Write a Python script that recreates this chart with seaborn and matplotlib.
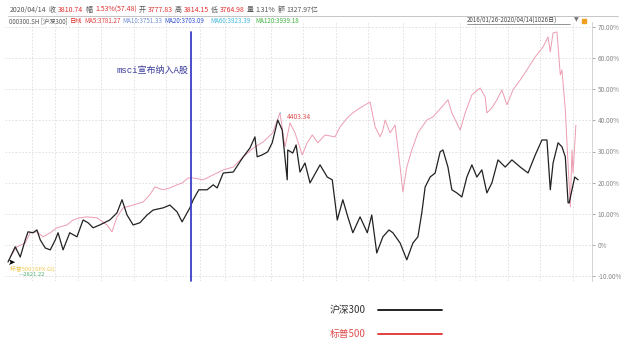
import numpy as np
import pandas as pd
import matplotlib
matplotlib.use("Agg")
import matplotlib.pyplot as plt
import seaborn as sns

# =============================================================================
# DATOS (día de negociación desde 2016/01/26, % acumulado)
# =============================================================================
hs300_day = [0, 13, 22, 31, 36, 45, 52, 58, 67, 76, 85, 90, 99, 111, 124, 135, 144, 153,
             165, 183, 196, 205, 214, 225, 237, 250, 261, 279, 291, 304, 313, 327, 333,
             343, 358, 369, 376, 387, 405, 423, 435, 444, 448, 457, 467, 475, 485, 493,
             502, 503, 512, 518, 525, 534, 543, 556, 561, 574, 583, 592, 602, 611, 620,
             633, 646, 654, 663, 674, 685, 692, 705, 717, 728, 737, 744, 750, 759, 768,
             777, 782, 791, 798, 807, 816, 825, 834, 843, 852, 861, 870, 881, 894, 906,
             921, 935, 948, 960, 969, 975, 980, 989, 996, 1002, 1007, 1009, 1014, 1019, 1025]
hs300_pct = [-5.5, -0.6, -3.9, 1.6, 4.2, 3.9, 4.8, 1.6, -1.0, -1.6, 1.6, 3.9, -1.6, 3.9,
             2.6, 8.0, 7.1, 5.5, 6.4, 8.0, 10.3, 14.5, 9.6, 6.4, 7.1, 9.6, 11.2, 11.9, 12.8,
             10.6, 7.4, 11.9, 14.5, 17.7, 17.7, 19.3, 18.3, 23.1, 23.4, 28.3, 31.1, 34.7,
             28.3, 28.9, 29.9, 32.8, 40.1, 36.9, 20.9, 30.5, 29.5, 32.1, 23.4, 26.3, 19.9,
             24.1, 25.7, 21.8, 20.9, 8.0, 14.5, 9.0, 3.9, 9.0, 3.9, 9.6, -2.6, 2.6, 4.8,
             3.9, 0.6, -4.8, 0.6, 2.6, 10.3, 18.6, 21.8, 23.1, 29.9, 30.5, 25.0, 17.7, 16.7,
             15.4, 21.8, 25.7, 21.8, 24.1, 16.7, 19.9, 27.3, 25.0, 27.3, 25.0, 23.1, 28.9,
             33.7, 33.7, 17.7, 26.3, 32.8, 31.5, 28.3, 13.5, 13.5, 17.7, 21.8, 20.9]

spx_day = [4, 16, 31, 40, 52, 63, 76, 88, 106, 117, 129, 142, 160, 178, 187, 196, 207, 225,
           243, 255, 264, 279, 291, 304, 313, 324, 333, 351, 369, 387, 405, 423, 441, 459,
           476, 489, 498, 507, 516, 529, 538, 547, 557, 570, 588, 597, 610, 620, 633, 651,
           660, 669, 674, 678, 687, 696, 705, 710, 717, 726, 737, 753, 764, 780, 791, 798,
           813, 822, 834, 849, 858, 861, 870, 879, 888, 897, 908, 921, 933, 948, 962, 971,
           975, 980, 987, 993, 996, 1002, 1005, 1011, 1014, 1016, 1021]
spx_pct = [-3.9, -0.6, 0.6, 3.9, 4.2, 2.6, 3.9, 5.5, 6.4, 8.0, 8.7, 9.0, 8.7, 6.4, 4.2, 9.0,
           11.9, 12.8, 13.8, 16.1, 18.6, 17.7, 18.3, 19.3, 19.9, 21.5, 21.5, 20.9, 22.5,
           24.1, 25.0, 28.3, 31.1, 33.1, 36.0, 42.4, 31.5, 39.2, 36.0, 28.9, 32.8, 35.3,
           32.8, 35.3, 34.7, 37.9, 40.8, 42.4, 44.0, 45.9, 37.9, 34.7, 36.9, 40.1, 36.0,
           38.5, 25.0, 17.0, 25.0, 30.5, 36.0, 40.1, 41.1, 44.3, 46.6, 42.4, 36.9, 42.4,
           48.2, 50.4, 47.5, 42.4, 44.0, 46.6, 49.8, 45.0, 49.8, 53.0, 56.2, 60.4, 63.6,
           66.8, 62.0, 68.1, 68.4, 54.6, 56.2, 43.4, 32.8, 12.2, 30.5, 23.1, 38.5]

y_ticks = [-10, 0, 10, 20, 30, 40, 50, 60, 70]
y_labels = ['-10.00%', '0%', '10.00%', '20.00%', '30.00%', '40.00%', '50.00%', '60.00%', '70.00%']
grid_days = [43, 85, 126, 167, 227, 284, 345, 390, 442, 473, 530, 590, 647, 710, 768,
             813, 840, 899, 957, 1016]
msci_day = 329
peak_day, peak_pct = 489, 42.4

df_hs = pd.DataFrame({'dia': hs300_day, 'pct': hs300_pct})
df_spx = pd.DataFrame({'dia': spx_day, 'pct': spx_pct})

# =============================================================================
# FIGURA
# =============================================================================
sns.set_style('white')
plt.rcParams['font.family'] = ['Noto Sans CJK SC', 'DejaVu Sans']

W, H = 628, 352
fig = plt.figure(figsize=(W / 100, H / 100), dpi=100)
ax = fig.add_axes([5 / W, 1 - 281 / H, (592 - 5) / W, (281 - 22) / H])

ROJO_SPX = '#ec9cb0'
sns.lineplot(data=df_spx, x='dia', y='pct', color=ROJO_SPX, linewidth=0.7,
             sort=False, estimator=None, ax=ax)
sns.lineplot(data=df_hs, x='dia', y='pct', color='#222222', linewidth=0.9,
             sort=False, estimator=None, ax=ax)

ax.set_xlim(-5.4, 1050)
ax.set_ylim(-11.6, 71.6)
ax.set_xticks(grid_days)
ax.set_xticklabels([])
ax.set_yticks(y_ticks)
ax.set_yticklabels(y_labels)
ax.yaxis.tick_right()
ax.tick_params(axis='y', labelsize=4.6, colors='#888888', length=2, pad=2, width=0.5)
ax.tick_params(axis='x', length=0)
ax.set_xlabel('')
ax.set_ylabel('')
ax.grid(True, linestyle=(0, (2, 2)), color='#dddddd', linewidth=0.6)
for lado in ['top', 'left', 'bottom']:
    ax.spines[lado].set_visible(False)
ax.spines['right'].set_color('#cccccc')
ax.spines['right'].set_linewidth(0.6)

# línea MSCI
ax.axvline(msci_day, ymin=0, ymax=0.96, color='#3b3fc4', linewidth=1.3, clip_on=False)
ax.text(msci_day - 4, 56, 'msci宣布纳入A股', color='#3a3a9a', fontsize=6.5,
        ha='right', va='center', family=['Liberation Mono', 'Noto Sans CJK SC'])

# pico 4403.34
ax.annotate('4403.34', xy=(peak_day, peak_pct), xytext=(peak_day + 12, 41.0),
            fontsize=4.8, color='#e05050', va='center',
            arrowprops=dict(arrowstyle='-', color='#40b8d8', linewidth=0.6))

# marcas inferiores izquierdas
ax.text(0, -5.5, '➤', fontsize=6.5, color='black', va='center', ha='left',
        family=['DejaVu Sans'])
ax.text(4, -7.6, '标普500 (SPX.GI)', fontsize=4.2, color='#f0c850', va='center')
ax.text(20, -9.6, '—2821.22', fontsize=4.2, color='#50b070', va='center')


def px(x, y):
    return x / W, 1 - y / H


# cabecera: cada trozo en su x de referencia, sin pisar al anterior
renderer = fig.canvas.get_renderer()


def fila(items, y, size):
    fin = 0
    for x, t, c in items:
        x = max(x, fin + 2)
        txt = fig.text(*px(x, y), t, fontsize=size, color=c, va='center', ha='left')
        bb = txt.get_window_extent(renderer)
        fin = bb.x1


fila1 = [(10, '2020/04/14', '#555555'), (49, '收', '#555555'), (57, '3810.74', '#e03030'),
         (86, '幅', '#555555'), (94, '1.53%(57.48)', '#e03030'), (137, '开', '#555555'),
         (143, '3777.83', '#e03030'), (172, '高', '#555555'), (178, '3814.15', '#e03030'),
         (207, '低', '#555555'), (213, '3764.98', '#e03030'), (244, '量', '#555555'),
         (251, '1.31%', '#555555'), (267, '额', '#555555'), (273, '1327.97亿', '#555555')]
fila(fila1, 10, 5.0)

fila2 = [(9, '000300.SH [沪深300]', '#555555'), (65, '日线', '#e03030'),
         (74, 'MA5:3781.27', '#e04040'), (121, 'MA10:3751.33', '#7090d0'),
         (163, 'MA20:3703.09', '#3050d0'), (210, 'MA60:3923.39', '#40b8e0'),
         (255, 'MA120:3939.18', '#40b040')]
fila(fila2, 21, 4.5)

fig.add_artist(plt.Line2D([8 / W, 618 / W], [1 - 15.5 / H] * 2, color='#bbbbbb', linewidth=0.6))

fig.text(*px(467, 20), '2016/01/26-2020/04/14(1026日)', fontsize=4.4, color='#444444',
         va='center', ha='left')
fig.add_artist(plt.Line2D([467 / W, 570 / W], [1 - 23.5 / H] * 2, color='#444444', linewidth=0.4))
fig.text(*px(574, 20), '▼', fontsize=4.5, color='#777777', va='center', ha='left',
         family=['DejaVu Sans'])
fig.add_artist(plt.Rectangle((582 / W, 1 - 23 / H), 4 / W, 4 / H, color='#f0a020'))

# leyenda inferior
fig.text(*px(330, 310), '沪深300', fontsize=7, color='#333333', va='center', ha='left')
fig.add_artist(plt.Line2D([378 / W, 442 / W], [1 - 310 / H] * 2, color='#111111', linewidth=1.3))
fig.text(*px(330, 334), '标普500', fontsize=7, color='#e05050', va='center', ha='left')
fig.add_artist(plt.Line2D([378 / W, 442 / W], [1 - 334 / H] * 2, color='#e03030', linewidth=1.3))

fig.savefig('out.png', dpi=100)
